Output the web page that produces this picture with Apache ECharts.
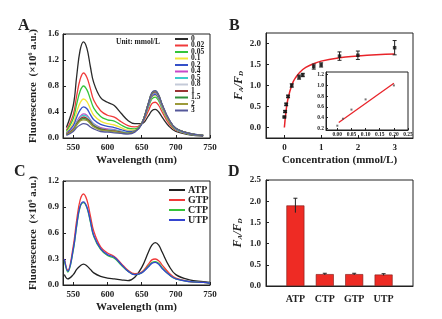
<!DOCTYPE html>
<html>
<head>
<meta charset="utf-8">
<script src="https://cdn.jsdelivr.net/npm/echarts@6/dist/echarts.min.js"></script>
<style>
  html, body { margin: 0; padding: 0; background: #fff; }
  #chart { width: 442px; height: 319px; }
</style>
</head>
<body>
<div id="chart"></div>
<script>
// Panel A: spectra at different ATP concentrations
const wavelengthsA = [540, 550, 555, 560, 565, 570, 575, 580, 590, 600, 610, 620, 630, 640, 650, 660, 665, 670, 675, 680, 690, 700, 720, 740];
const concNames = ["0", "0.02", "0.05", "0.1", "0.2", "0.4", "0.5", "0.8", "1", "1.5", "2", "3"];
const concColors = ["#2b2b2b", "#f03a3a", "#35c43a", "#f2e53a", "#3550c8", "#c848c8", "#3ccccc", "#c4cad8", "#9a3434", "#2f8f3a", "#9c9a3a", "#55589a"];
const spectraA = [
  [0.16, 0.50, 0.95, 1.35, 1.48, 1.38, 1.10, 0.85, 0.62, 0.55, 0.50, 0.38, 0.27, 0.22, 0.22, 0.34, 0.42, 0.44, 0.40, 0.32, 0.18, 0.10, 0.05, 0.03],
  [0.12, 0.36, 0.65, 0.90, 1.00, 0.93, 0.76, 0.58, 0.42, 0.35, 0.32, 0.25, 0.19, 0.17, 0.22, 0.42, 0.53, 0.55, 0.50, 0.40, 0.22, 0.12, 0.06, 0.04],
  [0.10, 0.30, 0.52, 0.72, 0.80, 0.74, 0.60, 0.46, 0.33, 0.28, 0.26, 0.20, 0.15, 0.14, 0.22, 0.48, 0.60, 0.63, 0.57, 0.45, 0.25, 0.13, 0.06, 0.04],
  [0.08, 0.23, 0.40, 0.54, 0.60, 0.56, 0.45, 0.35, 0.26, 0.22, 0.20, 0.16, 0.12, 0.12, 0.22, 0.50, 0.63, 0.66, 0.60, 0.47, 0.26, 0.14, 0.06, 0.04],
  [0.07, 0.19, 0.32, 0.43, 0.48, 0.45, 0.36, 0.28, 0.21, 0.18, 0.16, 0.13, 0.10, 0.11, 0.22, 0.50, 0.64, 0.67, 0.61, 0.48, 0.27, 0.14, 0.06, 0.04],
  [0.06, 0.15, 0.25, 0.33, 0.37, 0.35, 0.28, 0.22, 0.16, 0.14, 0.13, 0.10, 0.08, 0.10, 0.22, 0.52, 0.66, 0.69, 0.63, 0.49, 0.27, 0.14, 0.07, 0.04],
  [0.06, 0.14, 0.24, 0.31, 0.35, 0.33, 0.27, 0.21, 0.15, 0.13, 0.12, 0.10, 0.08, 0.10, 0.22, 0.52, 0.67, 0.70, 0.64, 0.50, 0.28, 0.14, 0.07, 0.04],
  [0.06, 0.13, 0.22, 0.30, 0.33, 0.31, 0.25, 0.20, 0.14, 0.12, 0.11, 0.09, 0.07, 0.10, 0.22, 0.53, 0.68, 0.71, 0.64, 0.50, 0.28, 0.15, 0.07, 0.04],
  [0.06, 0.13, 0.22, 0.29, 0.32, 0.30, 0.25, 0.19, 0.14, 0.12, 0.11, 0.09, 0.07, 0.10, 0.22, 0.53, 0.68, 0.71, 0.65, 0.51, 0.28, 0.15, 0.07, 0.04],
  [0.05, 0.12, 0.21, 0.27, 0.30, 0.28, 0.23, 0.18, 0.13, 0.11, 0.10, 0.08, 0.07, 0.10, 0.22, 0.54, 0.69, 0.72, 0.65, 0.51, 0.28, 0.15, 0.07, 0.04],
  [0.05, 0.12, 0.20, 0.26, 0.28, 0.27, 0.22, 0.17, 0.12, 0.11, 0.10, 0.08, 0.07, 0.10, 0.22, 0.54, 0.69, 0.72, 0.66, 0.51, 0.28, 0.15, 0.07, 0.04],
  [0.04, 0.10, 0.16, 0.20, 0.22, 0.21, 0.17, 0.14, 0.10, 0.09, 0.08, 0.07, 0.06, 0.09, 0.21, 0.54, 0.70, 0.73, 0.66, 0.52, 0.29, 0.15, 0.07, 0.04]
];
const ticksA = [550, 600, 650, 700, 750];

// Panel B: F_A/F_D vs concentration
const concB = [0, 0.02, 0.05, 0.1, 0.2, 0.4, 0.5, 0.8, 1, 1.5, 2, 3];
const ratioB = [0.25, 0.38, 0.55, 0.74, 1.0, 1.2, 1.25, 1.45, 1.49, 1.7, 1.72, 1.9];
const errB = [0.02, 0.02, 0.03, 0.03, 0.04, 0.05, 0.04, 0.06, 0.05, 0.1, 0.1, 0.17];
const fitX = [0, 0.05, 0.1, 0.2, 0.3, 0.5, 0.75, 1, 1.5, 2, 2.5, 3];
const fitY = [0, 0.42, 0.69, 1.0, 1.18, 1.38, 1.5, 1.58, 1.66, 1.70, 1.73, 1.75];
const ticksB = [0, 1, 2, 3];

// inset (linear range)
const insetX = [0, 0.02, 0.05, 0.1, 0.2];
const insetY = [0.25, 0.38, 0.55, 0.74, 1.0];
const insetLineX = [0.005, 0.2];
const insetLineY = [0.31, 1.04];

// Panel C: selectivity spectra
const wavelengthsC = [537, 542, 550, 555, 560, 565, 570, 575, 580, 590, 600, 610, 620, 630, 640, 650, 660, 665, 670, 675, 680, 690, 700, 720, 740, 750];
const ntpNames = ["ATP", "GTP", "CTP", "UTP"];
const ntpColors = ["#222222", "#f03a3a", "#35c43a", "#3545d0"];
const spectraC = [
  [0.12, 0.07, 0.12, 0.18, 0.22, 0.24, 0.22, 0.18, 0.14, 0.10, 0.08, 0.07, 0.06, 0.05, 0.09, 0.20, 0.38, 0.46, 0.49, 0.46, 0.38, 0.22, 0.12, 0.06, 0.04, 0.03],
  [0.30, 0.17, 0.45, 0.75, 0.98, 1.05, 0.98, 0.80, 0.62, 0.44, 0.37, 0.33, 0.25, 0.17, 0.13, 0.15, 0.24, 0.29, 0.30, 0.28, 0.23, 0.14, 0.08, 0.04, 0.03, 0.02],
  [0.28, 0.15, 0.40, 0.68, 0.90, 0.95, 0.89, 0.73, 0.56, 0.41, 0.34, 0.31, 0.23, 0.16, 0.12, 0.14, 0.22, 0.26, 0.27, 0.25, 0.20, 0.12, 0.07, 0.04, 0.03, 0.02],
  [0.30, 0.16, 0.41, 0.69, 0.91, 0.96, 0.90, 0.74, 0.57, 0.42, 0.35, 0.32, 0.24, 0.16, 0.12, 0.14, 0.21, 0.25, 0.26, 0.24, 0.19, 0.12, 0.07, 0.04, 0.03, 0.02]
];

// Panel D: F_A/F_D for each nucleotide
const barNames = ["ATP", "CTP", "GTP", "UTP"];
const barPos = [1, 2, 3, 4];
const barValues = [1.9, 0.28, 0.28, 0.27];
const barErr = [0.17, 0.02, 0.02, 0.02];

const FONT = "Liberation Serif";
const INK = "#222";

const chart = echarts.init(document.getElementById("chart"));

const labelStyle = (size) => ({ color: INK, fontFamily: FONT, fontWeight: "bold", fontSize: size });

function valueAxis(gridIndex, min, max, opts) {
  return Object.assign({
    type: "value",
    gridIndex,
    min,
    max,
    axisLine: { show: true, onZero: false, lineStyle: { color: INK, width: 1 } },
    axisTick: { show: true, inside: true, length: 3, lineStyle: { color: INK } },
    splitLine: { show: false },
    nameTextStyle: labelStyle(11)
  }, opts);
}

const ratioName = {
  name: "{i|F}{s|A}{i|/F}{s|D}",
  nameLocation: "middle",
  nameRotate: 90,
  nameTextStyle: {
    rich: {
      i: { fontFamily: FONT, fontWeight: "bold", fontStyle: "italic", fontSize: 12, color: INK },
      s: { fontFamily: FONT, fontWeight: "bold", fontStyle: "italic", fontSize: 7, color: INK, verticalAlign: "bottom", padding: [6, 0, 0, 0] }
    }
  }
};

const fluoName = {
  name: "Fluorescence  (×10{s|6} a.u.)",
  nameLocation: "middle",
  nameRotate: 90,
  nameTextStyle: Object.assign(labelStyle(11), {
    rich: { s: { fontFamily: FONT, fontWeight: "bold", fontSize: 6, color: INK, padding: [0, 0, 6, 0] } }
  })
};

function errorBar(xAxisIndex, yAxisIndex, data, capBottom, z) {
  return {
    type: "custom",
    xAxisIndex,
    yAxisIndex,
    z,
    silent: true,
    data,
    renderItem(params, api) {
      const x = api.value(0), y = api.value(1), e = api.value(2);
      const hi = api.coord([x, y + e]);
      const lo = api.coord([x, y - e]);
      const style = { stroke: INK, lineWidth: 1 };
      const kids = [
        { type: "line", shape: { x1: hi[0], y1: hi[1], x2: lo[0], y2: lo[1] }, style },
        { type: "line", shape: { x1: hi[0] - 2, y1: hi[1], x2: hi[0] + 2, y2: hi[1] }, style }
      ];
      if (capBottom) kids.push({ type: "line", shape: { x1: lo[0] - 2, y1: lo[1], x2: lo[0] + 2, y2: lo[1] }, style });
      return { type: "group", children: kids };
    }
  };
}

const series = [];
concNames.forEach((n, i) => {
  series.push({
    type: "line", name: n, xAxisIndex: 0, yAxisIndex: 0, smooth: 0.4, showSymbol: false,
    lineStyle: { width: 1.3, color: concColors[i] }, itemStyle: { color: concColors[i] },
    data: wavelengthsA.map((w, k) => [w, spectraA[i][k]])
  });
});
series.push({
  type: "line", name: "fit", xAxisIndex: 1, yAxisIndex: 1, smooth: 0.5, showSymbol: false,
  lineStyle: { width: 1.5, color: "#e8242a" }, data: fitX.map((x, k) => [x, fitY[k]]), z: 3
});
series.push(errorBar(1, 1, concB.map((x, k) => [x, ratioB[k], errB[k]]), true, 4));
series.push({
  type: "scatter", name: "pts", xAxisIndex: 1, yAxisIndex: 1, symbol: "rect", symbolSize: 3.5,
  itemStyle: { color: "#111" }, data: concB.map((x, k) => [x, ratioB[k]]), z: 5
});
series.push({
  type: "line", name: "insetFit", xAxisIndex: 2, yAxisIndex: 2, showSymbol: false,
  lineStyle: { width: 1.3, color: "#e8242a" }, data: insetLineX.map((x, k) => [x, insetLineY[k]]), z: 12
});
series.push({
  type: "scatter", name: "insetPts", xAxisIndex: 2, yAxisIndex: 2, symbol: "rect", symbolSize: 2,
  itemStyle: { color: "#555" }, data: insetX.map((x, k) => [x, insetY[k]]), z: 13
});
ntpNames.forEach((n, i) => {
  series.push({
    type: "line", name: n, xAxisIndex: 3, yAxisIndex: 3, smooth: 0.4, showSymbol: false,
    lineStyle: { width: 1.3, color: ntpColors[i] }, itemStyle: { color: ntpColors[i] },
    data: wavelengthsC.map((w, k) => [w, spectraC[i][k]])
  });
});
series.push({
  type: "bar", name: "bars", xAxisIndex: 4, yAxisIndex: 4, barWidth: 18,
  itemStyle: { color: "#ee2b24", borderColor: "#7a1a16", borderWidth: 0.6 },
  data: barPos.map((x, k) => [x, barValues[k]])
});
series.push(errorBar(4, 4, barPos.map((x, k) => [x, barValues[k], barErr[k]]), false, 5));

const option = {
  animation: false,
  backgroundColor: "#fff",
  grid: [
    { left: 63, top: 34, width: 147, height: 104, show: true, borderColor: INK, borderWidth: 1 },
    { left: 266, top: 33, width: 147, height: 105, show: true, borderColor: INK, borderWidth: 1 },
    { left: 326, top: 72, width: 82, height: 58, show: true, borderColor: INK, borderWidth: 1, backgroundColor: "#fff", z: 10 },
    { left: 63, top: 181, width: 147, height: 104, show: true, borderColor: INK, borderWidth: 1 },
    { left: 266, top: 180, width: 147, height: 106, show: true, borderColor: INK, borderWidth: 1 }
  ],
  xAxis: [
    valueAxis(0, 535, 750, {
      name: "Wavelength (nm)", nameLocation: "middle", nameGap: 17,
      axisTick: { show: true, inside: true, length: 3, customValues: ticksA, lineStyle: { color: INK } },
      axisLabel: Object.assign(labelStyle(9), { customValues: ticksA, margin: 5 })
    }),
    valueAxis(1, -0.5, 3.5, {
      name: "Concentration (mmol/L)", nameLocation: "middle", nameGap: 17,
      axisTick: { show: true, inside: true, length: 3, customValues: ticksB, lineStyle: { color: INK } },
      axisLabel: Object.assign(labelStyle(9), { customValues: ticksB, margin: 5 })
    }),
    valueAxis(2, -0.04, 0.25, {
      z: 11,
      axisTick: { show: true, inside: true, length: 2, customValues: [0, 0.05, 0.1, 0.15, 0.2, 0.25], lineStyle: { color: INK } },
      axisLabel: Object.assign(labelStyle(5.5), { customValues: [0, 0.05, 0.1, 0.15, 0.2, 0.25], margin: 2, formatter: (v) => v.toFixed(2) })
    }),
    valueAxis(3, 535, 750, {
      name: "Wavelength (nm)", nameLocation: "middle", nameGap: 17,
      axisTick: { show: true, inside: true, length: 3, customValues: ticksA, lineStyle: { color: INK } },
      axisLabel: Object.assign(labelStyle(9), { customValues: ticksA, margin: 5 })
    }),
    valueAxis(4, 0, 5, {
      axisTick: { show: false },
      axisLabel: Object.assign(labelStyle(10), { customValues: barPos, margin: 8, formatter: (v) => barNames[barPos.indexOf(v)] || "" })
    })
  ],
  yAxis: [
    valueAxis(0, 0, 1.6, Object.assign({}, fluoName, {
      nameGap: 24, interval: 0.4,
      axisLabel: Object.assign(labelStyle(9), { margin: 4, formatter: (v) => v.toFixed(1) })
    })),
    valueAxis(1, -0.25, 2.25, Object.assign({}, ratioName, {
      nameGap: 21,
      axisTick: { show: true, inside: true, length: 3, customValues: [0, 0.5, 1, 1.5, 2], lineStyle: { color: INK } },
      axisLabel: Object.assign(labelStyle(9), { customValues: [0, 0.5, 1, 1.5, 2], margin: 5, formatter: (v) => v.toFixed(1) })
    })),
    valueAxis(2, 0.17, 1.25, {
      z: 11,
      axisTick: { show: true, inside: true, length: 2, customValues: [0.2, 0.4, 0.6, 0.8, 1.0, 1.2], lineStyle: { color: INK } },
      axisLabel: Object.assign(labelStyle(5.5), { customValues: [0.2, 0.4, 0.6, 0.8, 1.0, 1.2], margin: 2, formatter: (v) => v.toFixed(1) })
    }),
    valueAxis(3, 0, 1.2, Object.assign({}, fluoName, {
      nameGap: 24, interval: 0.3,
      axisLabel: Object.assign(labelStyle(9), { margin: 4, formatter: (v) => v.toFixed(1) })
    })),
    valueAxis(4, 0, 2.5, Object.assign({}, ratioName, {
      nameGap: 22, interval: 0.5,
      axisLabel: Object.assign(labelStyle(9), { margin: 5, formatter: (v) => v.toFixed(1) })
    }))
  ],
  legend: [
    {
      data: concNames, orient: "vertical", left: 170, top: 30, itemGap: -1.5,
      itemWidth: 13, itemHeight: 2, icon: "rect",
      textStyle: Object.assign(labelStyle(7.5), { lineHeight: 6, padding: [0, 0, 0, -2] })
    },
    {
      data: ntpNames, orient: "vertical", left: 164, top: 180, itemGap: 0,
      itemWidth: 16, itemHeight: 2, icon: "rect",
      textStyle: Object.assign(labelStyle(10), { lineHeight: 10, padding: [0, 0, 0, -2] })
    }
  ],
  graphic: [
    { type: "text", left: 18, top: 18, style: { text: "A", font: "bold 16px 'Liberation Serif'", fill: INK } },
    { type: "text", left: 229, top: 18, style: { text: "B", font: "bold 16px 'Liberation Serif'", fill: INK } },
    { type: "text", left: 14, top: 164, style: { text: "C", font: "bold 16px 'Liberation Serif'", fill: INK } },
    { type: "text", left: 228, top: 164, style: { text: "D", font: "bold 16px 'Liberation Serif'", fill: INK } },
    { type: "text", left: 116, top: 38, style: { text: "Unit: mmol/L", font: "bold 7.5px 'Liberation Serif'", fill: INK } }
  ],
  series
};

chart.setOption(option);
</script>
</body>
</html>
